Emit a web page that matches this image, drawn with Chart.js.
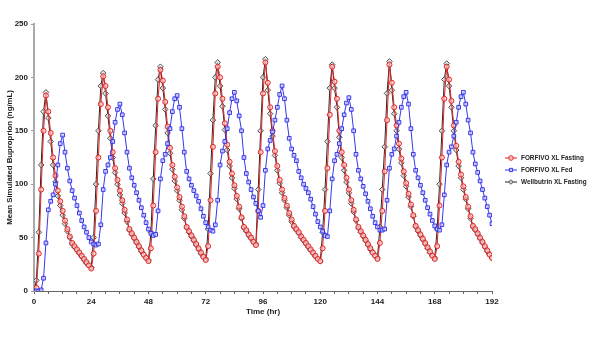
<!DOCTYPE html>
<html>
<head>
<meta charset="utf-8">
<script src="https://cdn.jsdelivr.net/npm/chart.js@4/dist/chart.umd.min.js"></script>
<style>
  html, body { margin: 0; padding: 0; background: #fff; }
  #wrap { position: relative; width: 592px; height: 362px; }
</style>
</head>
<body>
<div id="wrap"><canvas id="pkChart" width="592" height="362"></canvas></div>
<script>
// Horas de muestreo (eje x)
const hours = Array.from({ length: 193 }, (_, i) => i);
const xTicks = [0, 24, 48, 72, 96, 120, 144, 168, 192];
const yTicks = [0, 50, 100, 150, 200, 250];

// FORFIVO XL Fasting (ng/mL), una lectura por hora
const forfivoFasting = [
    0, 3, 35, 95, 150, 183, 168, 148, 125, 108, 94, 84, 75, 66, 58, 51, 45, 42, 39, 36, 33, 30, 27, 24,
    21, 35, 75, 125, 175, 201, 192, 172, 150, 130, 115, 104, 94, 85, 76, 67, 58, 54, 50, 46, 42, 38, 34, 31,
    28, 40, 80, 130, 180, 207, 197, 177, 154, 134, 118, 107, 97, 88, 79, 70, 60, 56, 52, 48, 44, 40, 36, 32,
    29, 42, 85, 135, 185, 210, 200, 180, 157, 137, 121, 110, 99, 89, 79, 69, 60, 57, 53, 50, 46, 43, 75, 130,
    185, 214, 195, 172, 150, 131, 117, 104, 95, 87, 80, 73, 67, 61, 58, 55, 51, 48, 45, 42, 39, 36, 33, 30,
    28, 40, 75, 115, 165, 210, 196, 180, 150, 130, 118, 106, 95, 85, 76, 67, 60, 56, 52, 48, 44, 40, 36, 33,
    30, 45, 75, 112, 160, 212, 195, 172, 155, 138, 124, 112, 101, 91, 81, 71, 61, 57, 53, 49, 45, 41, 37, 33,
    30, 42, 80, 125, 180, 210, 198, 178, 155, 136, 121, 109, 98, 88, 79, 70, 61, 58, 54, 50, 46, 42, 38, 34,
    31
];

// FORFIVO XL Fed
const forfivoFed = [
    0, 0, 0, 1, 12, 45, 76, 84, 90, 100, 118, 138, 146, 130, 115, 103, 94, 87, 80, 73, 66, 60, 55, 50,
    46, 44, 43, 44, 62, 95, 112, 118, 125, 140, 158, 170, 175, 165, 148, 130, 115, 106, 99, 92, 85, 78, 71, 64,
    58, 54, 52, 53, 75, 105, 122, 128, 138, 152, 168, 180, 183, 172, 152, 130, 112, 105, 99, 94, 89, 84, 77, 70,
    64, 60, 57, 56, 62, 85, 118, 131, 140, 152, 167, 180, 186, 178, 164, 150, 125, 110, 102, 95, 88, 82, 75, 69,
    80, 113, 133, 141, 149, 160, 172, 184, 192, 180, 160, 143, 133, 127, 122, 112, 106, 100, 96, 92, 86, 79, 72, 65,
    60, 56, 52, 51, 75, 105, 122, 128, 138, 152, 165, 176, 181, 170, 150, 128, 113, 105, 98, 91, 84, 77, 70, 64,
    60, 57, 57, 58, 85, 115, 128, 133, 145, 158, 172, 182, 186, 175, 152, 128, 113, 106, 99, 92, 85, 78, 72, 66,
    61, 58, 57, 62, 90, 118, 130, 135, 145, 158, 172, 182, 186, 175, 160, 148, 130, 119, 111, 103, 95, 87, 79, 71,
    63
];

// Wellbutrin XL Fasting
const wellbutrinFasting = [
    0, 10, 55, 118, 168, 186, 162, 140, 118, 102, 89, 80, 71, 63, 56, 50, 44, 41, 38, 35, 32, 29, 26, 24,
    22, 50, 100, 150, 192, 204, 185, 164, 143, 125, 111, 100, 90, 82, 73, 65, 57, 53, 49, 45, 41, 37, 34, 31,
    29, 55, 105, 155, 198, 210, 190, 170, 148, 129, 114, 103, 94, 85, 76, 68, 59, 55, 51, 47, 43, 39, 35, 32,
    30, 58, 110, 160, 200, 214, 192, 173, 151, 132, 117, 106, 96, 86, 77, 68, 59, 56, 52, 49, 46, 44, 95, 150,
    200, 217, 188, 166, 145, 127, 113, 101, 92, 85, 78, 71, 65, 60, 57, 54, 50, 47, 44, 41, 38, 35, 32, 30,
    28, 55, 95, 140, 190, 212, 190, 172, 144, 125, 113, 102, 92, 82, 74, 66, 59, 55, 51, 47, 43, 39, 36, 33,
    31, 60, 95, 135, 185, 215, 188, 166, 150, 133, 120, 108, 98, 88, 79, 70, 60, 56, 52, 48, 44, 40, 36, 33,
    31, 58, 100, 150, 198, 213, 192, 172, 150, 132, 117, 106, 95, 86, 77, 68, 60, 57, 53, 49, 45, 41, 37, 34,
    31
];

const seriesNames = ['FORFIVO XL Fasting', 'FORFIVO XL Fed', 'Wellbutrin XL Fasting'];
const FONT = '"Liberation Sans", Arial, sans-serif';

function toPoints(values) {
    return hours.map((h, i) => ({ x: h, y: values[i] }));
}

// Leyenda dibujada a mano: línea con marcador + texto
const sideLegend = {
    id: 'sideLegend',
    afterDraw(chart) {
        const ctx = chart.ctx;
        ctx.save();
        ctx.font = 'bold 6.4px ' + FONT;
        ctx.textBaseline = 'middle';
        chart.data.datasets.forEach((ds, k) => {
            const y = 158 + k * 12;
            ctx.strokeStyle = ds.borderColor;
            ctx.lineWidth = 1;
            ctx.beginPath();
            ctx.moveTo(505, y);
            ctx.lineTo(517, y);
            ctx.stroke();
            ctx.strokeStyle = ds.pointBorderColor;
            ctx.fillStyle = ds.backgroundColor;
            Chart.helpers.drawPoint(ctx, {
                pointStyle: ds.pointStyle,
                radius: 2.3,
                borderWidth: 1
            }, 511, y);
            ctx.fillStyle = '#222';
            ctx.fillText(seriesNames[k], 521, y + 0.5);
        });
        ctx.restore();
    }
};

const ctx = document.getElementById('pkChart').getContext('2d');
new Chart(ctx, {
    type: 'line',
    data: {
        datasets: [
            {
                label: seriesNames[0],
                data: toPoints(forfivoFasting),
                borderColor: 'rgb(225,35,35)',
                backgroundColor: 'rgba(255,205,205,0.7)',
                pointBorderColor: 'rgb(225,35,35)',
                pointStyle: 'circle',
                pointRadius: 2.5,
                pointBorderWidth: 1,
                borderWidth: 1,
                order: 1
            },
            {
                label: seriesNames[1],
                data: toPoints(forfivoFed),
                borderColor: 'rgb(55,55,235)',
                backgroundColor: 'rgba(215,215,255,0.7)',
                pointBorderColor: 'rgb(55,55,235)',
                pointStyle: 'rect',
                pointRadius: 2.6,
                pointBorderWidth: 1,
                borderWidth: 1,
                order: 0
            },
            {
                label: seriesNames[2],
                data: toPoints(wellbutrinFasting),
                borderColor: 'rgb(40,40,40)',
                backgroundColor: 'rgba(225,225,225,0.7)',
                pointBorderColor: 'rgb(80,80,80)',
                pointStyle: 'rectRot',
                pointRadius: 2.8,
                pointBorderWidth: 1,
                borderWidth: 1,
                order: 2
            }
        ]
    },
    options: {
        responsive: false,
        animation: false,
        layout: { padding: { top: 24, right: 100, left: 0, bottom: 45 } },
        plugins: {
            legend: { display: false },
            tooltip: { enabled: false }
        },
        scales: {
            x: {
                type: 'linear',
                min: 0,
                max: 192,
                afterBuildTicks: (scale) => {
                    const t = [];
                    for (let v = 0; v <= 192; v += 6) t.push({ value: v });
                    scale.ticks = t;
                },
                ticks: {
                    autoSkip: false,
                    maxRotation: 0,
                    padding: 3,
                    color: '#222',
                    font: { family: FONT, size: 8, weight: 'bold' },
                    callback: (v) => xTicks.includes(v) ? String(v) : ''
                },
                grid: { drawOnChartArea: false, drawTicks: true, tickLength: 3, color: '#666' },
                border: { color: '#666', width: 1 },
                title: {
                    display: true,
                    text: 'Time (hr)',
                    color: '#222',
                    padding: { top: 0, bottom: 0 },
                    font: { family: FONT, size: 8, weight: 'bold' }
                },
                afterFit: (scale) => { scale.height = 26; }
            },
            y: {
                min: 0,
                max: 250,
                afterBuildTicks: (scale) => { scale.ticks = yTicks.map(v => ({ value: v })); },
                ticks: {
                    padding: 3,
                    color: '#222',
                    font: { family: FONT, size: 8, weight: 'bold' }
                },
                grid: { drawOnChartArea: false, drawTicks: true, tickLength: 3, color: '#999' },
                border: { color: '#aaa', width: 2 },
                title: {
                    display: true,
                    text: 'Mean Simulated Buproprion (ng/mL)',
                    color: '#222',
                    padding: { top: 5, bottom: 0 },
                    font: { family: FONT, size: 7.8, weight: 'bold' }
                },
                afterFit: (scale) => { scale.width = 34; }
            }
        }
    },
    plugins: [sideLegend]
});
</script>
</body>
</html>
